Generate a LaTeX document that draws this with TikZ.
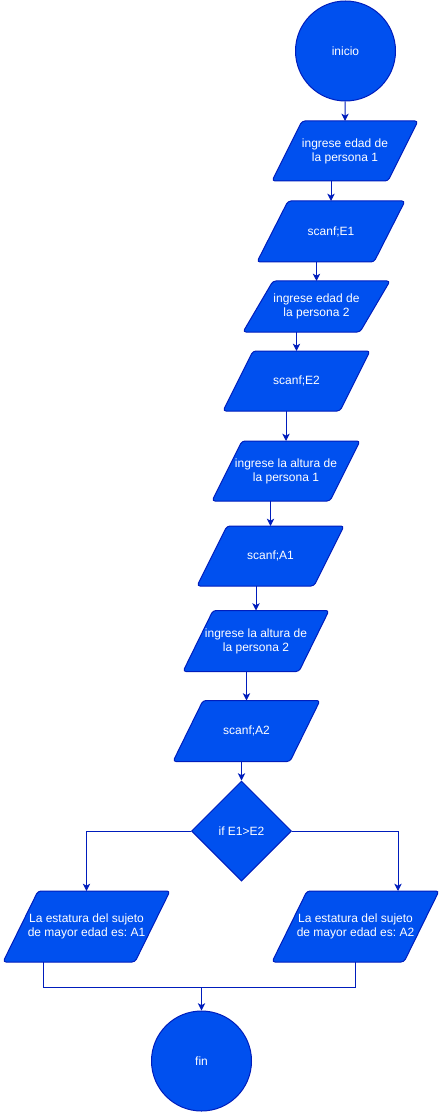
\documentclass[tikz,border=0pt]{standalone}
\usepackage{fontspec}
\setmainfont{Liberation Sans}
\usetikzlibrary{shapes.geometric,arrows.meta,calc}
\definecolor{fillblue}{HTML}{0050EF}
\definecolor{lineblue}{HTML}{001DBC}
\frenchspacing
\newcommand{\iobox}[7]{%
  \draw[iostyle] ({#2-#4/2},{#3+#5/2}) -- ({#2+#4/2-#6},{#3+#5/2}) -- ({#2+#4/2},{#3-#5/2}) -- ({#2-#4/2+#6},{#3-#5/2}) -- cycle;
  \node[txt] (#1) at (#2,#3) {#7};
  \coordinate (#1-t) at (#2,{#3-#5/2});
  \coordinate (#1-b) at (#2,{#3+#5/2});
}
\begin{document}
\begin{tikzpicture}[x=0.75pt,y=-0.75pt,
  iostyle/.style={draw=lineblue,fill=fillblue,line width=0.75pt,rounded corners=2.25pt},
  txt/.style={text=white,font=\fontsize{9pt}{10.5pt}\selectfont,align=center,inner sep=0pt},
  term/.style={circle,draw=lineblue,fill=fillblue,line width=0.75pt,minimum size=75pt,inner sep=0pt,text=white,font=\fontsize{9pt}{10.5pt}\selectfont},
  dec/.style={diamond,draw=lineblue,fill=fillblue,line width=0.75pt,minimum width=75pt,minimum height=75pt,inner sep=0pt,text=white,font=\fontsize{9pt}{10.5pt}\selectfont},
  conn/.style={draw=lineblue,line width=0.75pt},
  arr/.style={conn,-{Stealth[length=5.5pt,width=5.5pt,inset=1.5pt]}}]
\useasboundingbox (0,0) rectangle (441,1112);
\node[term] (start) at (345.5,51) {inicio};
\iobox{P1}{345}{151}{146}{60}{30}{ingrese edad de\\ la persona 1}
\iobox{P2}{331}{231.5}{148}{61}{31}{scanf;E1}
\iobox{P3}{316.5}{306.5}{147}{51}{30}{ingrese edad de\\ la persona 2}
\iobox{P4}{296.5}{381}{147}{60}{30}{scanf;E2}
\iobox{P5}{286}{471}{148}{60}{30}{ingrese la altura de\\ la persona 1}
\iobox{P6}{270.5}{556}{147}{60}{30}{scanf;A1}
\iobox{P7}{256}{641}{146}{61}{30}{ingrese la altura de\\ la persona 2}
\iobox{P8}{246.5}{731}{147}{61}{30}{scanf;A2}
\node[dec] (D) at (241.5,831) {if E1>E2};
\iobox{P9}{86.5}{926.5}{167}{71}{35}{La estatura del sujeto\\ de mayor edad es: A1}
\iobox{P10}{355.5}{926.5}{167}{71}{35}{La estatura del sujeto\\ de mayor edad es: A2}
\node[term] (fin) at (201.5,1061) {fin};
\coordinate (join) at (201.5,987);
\draw[arr] (start) -- (P1-t);
\draw[arr] (P1-b -| P2-t) -- (P2-t);
\draw[arr] (P2-b -| P3-t) -- (P3-t);
\draw[arr] (P3-b -| P4-t) -- (P4-t);
\draw[arr] (P4-b -| P5-t) -- (P5-t);
\draw[arr] (P5-b -| P6-t) -- (P6-t);
\draw[arr] (P6-b -| P7-t) -- (P7-t);
\draw[arr] (P7-b -| P8-t) -- (P8-t);
\draw[arr] (P8-b -| D.north) -- (D.north);
\draw[arr] (D.west) -| (P9-t);
\draw[arr] (D.east) -| ($(P10-t)+(42.5,0)$);
\draw[conn] ($(P9-b)+(-43.5,0)$) |- (join) -| (P10-b);
\draw[arr] (join) -- (fin);
\end{tikzpicture}
\end{document}
